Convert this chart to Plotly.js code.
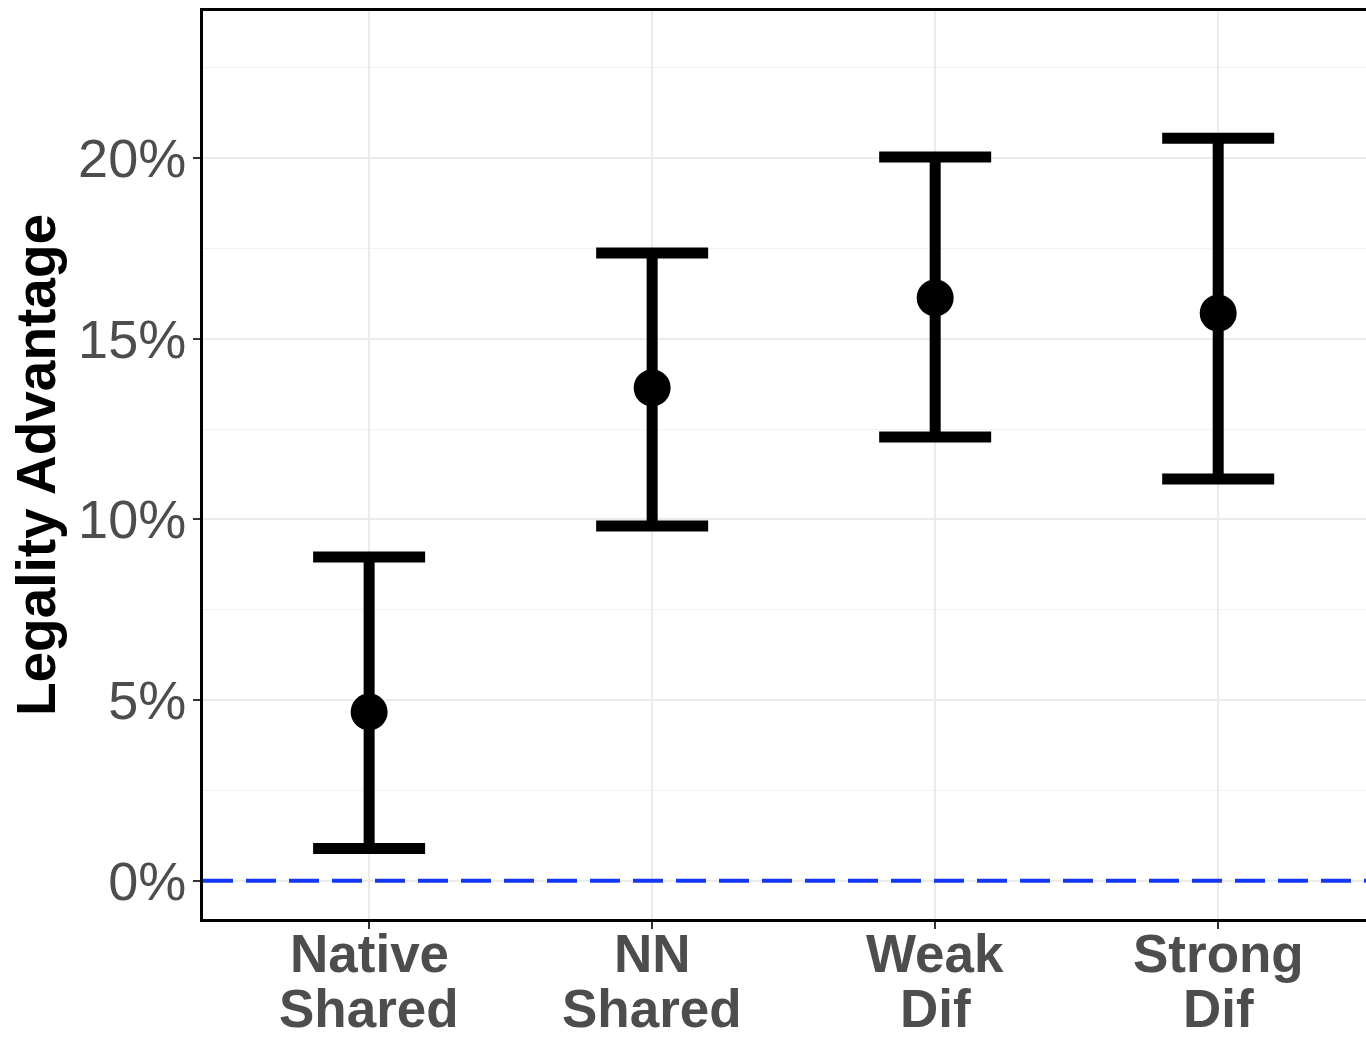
<!DOCTYPE html>
<html>
<head>
<meta charset="utf-8">
<script src="https://cdn.plot.ly/plotly-3.0.1.min.js"></script>
<style>
html, body { margin: 0; padding: 0; overflow: hidden; background: #fff; }
#chart { width: 1400px; height: 1039px; }
</style>
</head>
<body>
<div id="chart"></div>
<script>
// Data (values in percent)
var catLine1 = ["Native", "NN", "Weak", "Strong"];
var catLine2 = ["Shared", "Shared", "Dif", "Dif"];
var positions = [1, 2, 3, 4];
var estimate = [4.67, 13.64, 16.13, 15.71];
var upper = [8.96, 17.37, 20.03, 20.55];
var lower = [0.89, 9.82, 12.28, 11.12];
var yTicks = [0, 5, 10, 15, 20];
var yTickText = ["0%", "5%", "10%", "15%", "20%"];
var refValue = 0;

var errPlus = estimate.map(function (v, i) { return upper[i] - v; });
var errMinus = estimate.map(function (v, i) { return v - lower[i]; });

var FONT = "Liberation Sans, Arial, Helvetica, sans-serif";
var W = 1400, H = 1039;
var mL = 203, mR = 12, mT = 11, mB = 120;
var plotH = H - mT - mB;
var plotBottom = H - mB;

var trace = {
  type: "scatter",
  mode: "markers",
  x: positions,
  y: estimate,
  marker: { color: "#000000", size: 37 },
  error_y: {
    type: "data",
    symmetric: false,
    array: errPlus,
    arrayminus: errMinus,
    color: "#000000",
    thickness: 11,
    width: 56
  },
  hoverinfo: "skip",
  showlegend: false
};

var annotations = [];
for (var i = 0; i < positions.length; i++) {
  annotations.push({
    x: positions[i], xref: "x",
    y: -(953 - plotBottom) / plotH, yref: "paper",
    text: catLine1[i], showarrow: false,
    xanchor: "center", yanchor: "middle",
    font: { family: FONT, size: 53, color: "#4d4d4d", weight: "bold" }
  });
  annotations.push({
    x: positions[i], xref: "x",
    y: -(1008 - plotBottom) / plotH, yref: "paper",
    text: catLine2[i], showarrow: false,
    xanchor: "center", yanchor: "middle",
    font: { family: FONT, size: 53, color: "#4d4d4d", weight: "bold" }
  });
}

var layout = {
  width: W,
  height: H,
  margin: { l: mL, r: mR, t: mT, b: mB, pad: 0 },
  paper_bgcolor: "#ffffff",
  plot_bgcolor: "#ffffff",
  font: { family: FONT },
  xaxis: {
    range: [0.413, 4.6],
    tickvals: positions,
    showticklabels: false,
    ticks: "outside",
    ticklen: 7,
    tickwidth: 2,
    tickcolor: "#333333",
    showgrid: true,
    gridcolor: "#ebebeb",
    gridwidth: 2,
    zeroline: false,
    showline: true,
    mirror: true,
    linecolor: "#000000",
    linewidth: 3
  },
  yaxis: {
    range: [-1.06, 24.07],
    tickvals: yTicks,
    ticktext: yTickText,
    ticks: "outside",
    ticklen: 7,
    tickwidth: 2,
    tickcolor: "#333333",
    tickfont: { family: FONT, size: 54, color: "#4d4d4d" },
    ticklabelstandoff: -4,
    showgrid: true,
    gridcolor: "#ebebeb",
    gridwidth: 2,
    minor: { dtick: 2.5, tick0: 0, showgrid: true, gridcolor: "#f2f2f2", gridwidth: 1, ticks: "" },
    zeroline: false,
    showline: true,
    mirror: true,
    linecolor: "#000000",
    linewidth: 3,
    title: {
      text: "Legality Advantage",
      font: { family: FONT, size: 55, color: "#000000", weight: "bold" },
      standoff: 5
    }
  },
  shapes: [{
    type: "line",
    xref: "paper", x0: 0, x1: 1,
    yref: "y", y0: refValue, y1: refValue,
    line: { color: "#1437f5", width: 4, dash: "30px,13px" },
    layer: "above"
  }],
  annotations: annotations
};

Plotly.newPlot("chart", [trace], layout, { displayModeBar: false, staticPlot: true });
</script>
</body>
</html>
